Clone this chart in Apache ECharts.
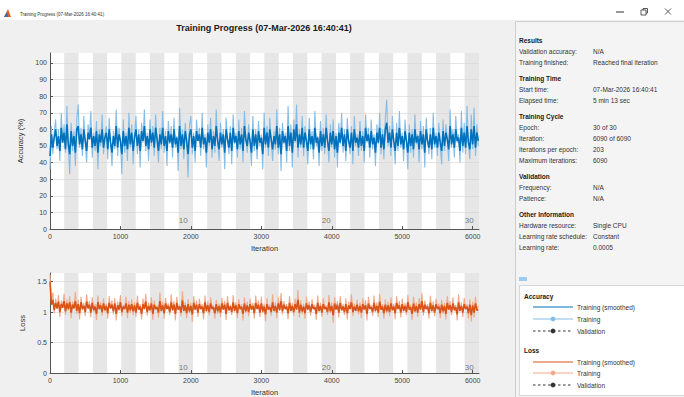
<!DOCTYPE html>
<html>
<head>
<meta charset="utf-8">
<script src="https://cdn.jsdelivr.net/npm/echarts@6/dist/echarts.min.js"></script>
<style>
  html, body { margin: 0; padding: 0; background: #f0f0f0; }
  #chart { width: 684px; height: 397px; }
</style>
</head>
<body>
<div id="chart"></div>
<script>
// readings every 20 iterations
const sampleStep = 20;
const maxIterations = 6090;
const itersPerEpoch = 203;
const epochMarks = [10, 20, 30];
const xTicks = [0, 1000, 2000, 3000, 4000, 5000, 6000];

const accTraining = [
  36, 62, 45, 58, 66, 48, 60, 41, 70, 52, 63, 46, 74, 50, 33, 64, 47, 59, 38, 66,
  75, 49, 61, 44, 68, 52, 40, 63, 55, 71, 43, 58, 47, 65, 36, 60, 50, 69, 45, 57,
  62, 42, 67, 51, 38, 59, 48, 72, 44, 61, 53, 33, 66, 46, 58, 41, 70, 49, 63, 39,
  57, 68, 45, 60, 37, 64, 52, 72, 47, 58, 41, 66, 50, 62, 44, 69, 53, 40, 61, 48,
  71, 46, 59, 38, 65, 51, 62, 43, 67, 49, 56, 35, 73, 48, 60, 42, 64, 52, 31, 62,
  68, 45, 58, 40, 66, 53, 61, 44, 70, 48, 57, 37, 63, 50, 67, 43, 59, 46, 72, 52,
  41, 64, 49, 60, 36, 67, 54, 45, 62, 39, 69, 51, 58, 43, 66, 48, 61, 40, 71, 55,
  46, 63, 52, 38, 68, 47, 60, 42, 65, 50, 57, 36, 70, 49, 62, 44, 67, 53, 41, 59,
  48, 72, 45, 61, 35, 64, 51, 58, 40, 74, 47, 63, 37, 66, 52, 75, 43, 60, 49, 68,
  44, 62, 53, 39, 67, 48, 59, 42, 71, 50, 56, 38, 65, 47, 61, 45, 69, 52, 40, 63,
  49, 66, 43, 58, 37, 64, 51, 70, 46, 60, 41, 67, 53, 45, 62, 39, 68, 50, 57, 44,
  65, 47, 59, 40, 69, 52, 61, 43, 66, 48, 57, 38, 63, 51, 70, 45, 60, 42, 67, 78,
  50, 62, 44, 68, 53, 39, 64, 47, 71, 49, 58, 41, 66, 52, 36, 63, 46, 60, 43, 69,
  51, 57, 40, 65, 48, 62, 37, 67, 53, 45, 61, 42, 70, 49, 58, 44, 64, 50, 39, 66,
  47, 63, 54, 41, 72, 49, 60, 43, 68, 52, 57, 40, 71, 46, 64, 45, 74, 51, 42, 69,
  48, 73, 44, 63, 50
];
const accSmoothed = [
  44, 57, 49, 55, 60, 50, 56, 47, 61, 52, 58, 48, 63, 51, 45, 59, 50, 56, 46, 60,
  62, 51, 57, 48, 60, 53, 47, 58, 54, 61, 49, 56, 50, 59, 46, 57, 52, 60, 49, 55,
  58, 48, 60, 52, 46, 56, 50, 62, 49, 57, 53, 45, 59, 50, 56, 48, 61, 51, 58, 47,
  55, 60, 50, 57, 47, 59, 53, 62, 50, 56, 48, 60, 52, 58, 49, 61, 54, 47, 57, 51,
  61, 50, 56, 47, 59, 52, 57, 49, 60, 51, 55, 46, 62, 50, 57, 48, 59, 53, 45, 57,
  60, 49, 56, 47, 59, 53, 57, 49, 61, 51, 55, 46, 58, 52, 60, 48, 56, 50, 62, 53,
  48, 58, 51, 57, 46, 60, 54, 49, 58, 47, 61, 52, 56, 48, 59, 51, 57, 47, 62, 54,
  50, 58, 53, 46, 60, 50, 57, 48, 59, 52, 55, 45, 61, 51, 58, 49, 60, 54, 48, 56,
  51, 62, 49, 57, 45, 59, 52, 56, 47, 62, 50, 58, 46, 60, 53, 63, 49, 57, 51, 61,
  49, 58, 53, 47, 60, 51, 56, 48, 61, 52, 55, 46, 59, 50, 57, 49, 61, 53, 47, 58,
  51, 59, 48, 56, 46, 58, 52, 61, 50, 57, 47, 60, 53, 49, 58, 47, 60, 52, 55, 49,
  59, 50, 56, 47, 61, 53, 57, 49, 59, 51, 55, 46, 58, 52, 61, 49, 57, 48, 60, 64,
  52, 58, 49, 60, 53, 47, 58, 50, 61, 51, 56, 48, 59, 53, 46, 58, 50, 57, 48, 60,
  52, 56, 48, 59, 51, 57, 46, 60, 53, 49, 57, 48, 61, 51, 56, 49, 58, 52, 47, 59,
  50, 58, 54, 48, 62, 51, 57, 49, 60, 53, 55, 47, 61, 50, 58, 49, 62, 52, 48, 60,
  51, 62, 49, 58, 53
];
const lossTraining = [
  1.62, 1.18, 1.32, 0.98, 1.22, 1.05, 1.28, 0.92, 1.19, 1.08, 1.30, 0.95, 1.21, 1.02, 1.26, 0.90, 1.17, 1.07, 1.33, 0.97,
  1.20, 0.88, 1.25, 1.03, 1.15, 0.93, 1.29, 1.06, 1.18, 0.91, 1.24, 1.00, 1.13, 0.87, 1.27, 1.04, 1.16, 0.94, 1.22, 1.01,
  1.14, 0.89, 1.26, 1.05, 1.19, 0.96, 1.23, 0.86, 1.17, 1.02, 1.28, 0.93, 1.12, 1.06, 1.25, 0.90, 1.18, 0.99, 1.21, 0.95,
  1.16, 0.92, 1.27, 1.03, 1.13, 0.88, 1.22, 1.05, 1.30, 0.94, 1.15, 1.01, 1.24, 0.87, 1.19, 1.04, 1.11, 0.91, 1.32, 1.00,
  1.17, 0.89, 1.23, 1.06, 1.14, 0.95, 1.29, 1.02, 1.18, 0.86, 1.25, 1.04, 1.12, 0.93, 1.34, 1.01, 1.16, 0.90, 1.21, 0.98,
  1.15, 0.84, 1.26, 1.03, 1.19, 0.92, 1.22, 1.05, 1.13, 0.88, 1.27, 1.00, 1.17, 0.94, 1.24, 1.06, 1.11, 0.89, 1.20, 0.97,
  1.14, 0.91, 1.23, 1.04, 1.18, 0.87, 1.26, 1.02, 1.12, 0.95, 1.28, 1.01, 1.16, 0.90, 1.21, 1.05, 1.13, 0.86, 1.24, 0.99,
  1.17, 0.93, 1.22, 1.03, 1.15, 0.89, 1.27, 1.06, 1.19, 0.92, 1.25, 0.98, 1.14, 0.85, 1.23, 1.04, 1.12, 0.94, 1.29, 1.00,
  1.16, 0.90, 1.24, 1.02, 1.31, 0.96, 1.18, 1.05, 1.13, 0.88, 1.26, 1.01, 1.15, 0.93, 1.22, 1.04, 1.36, 0.91, 1.19, 0.97,
  1.14, 0.89, 1.25, 1.03, 1.17, 0.94, 1.21, 1.06, 1.12, 0.87, 1.27, 1.00, 1.15, 0.92, 1.23, 1.05, 1.11, 0.95, 1.28, 0.99,
  1.16, 0.82, 1.24, 1.04, 1.18, 0.91, 1.26, 1.02, 1.13, 0.95, 1.22, 0.88, 1.17, 1.05, 1.29, 0.93, 1.14, 1.01, 1.20, 0.96,
  1.15, 0.90, 1.23, 1.03, 1.19, 0.86, 1.25, 1.06, 1.12, 0.94, 1.27, 1.00, 1.16, 0.92, 1.30, 1.04, 1.13, 0.89, 1.21, 0.98,
  1.17, 0.93, 1.24, 1.02, 1.14, 0.88, 1.26, 1.05, 1.18, 0.91, 1.22, 1.01, 1.15, 0.95, 1.28, 1.03, 1.12, 0.87, 1.25, 0.99,
  1.16, 0.92, 1.23, 1.04, 1.31, 0.94, 1.19, 1.06, 1.13, 0.89, 1.27, 1.00, 1.17, 0.93, 1.22, 1.05, 1.14, 0.90, 1.20, 0.97,
  1.15, 0.88, 1.26, 1.03, 1.18, 0.95, 1.24, 1.02, 1.12, 0.86, 1.29, 1.01, 1.16, 0.92, 1.23, 1.05, 1.13, 0.89, 1.21, 0.84,
  1.17, 0.91, 1.25, 1.02, 1.10
];
const lossSmoothed = [
  1.50, 1.12, 1.20, 1.03, 1.15, 1.06, 1.17, 1.00, 1.13, 1.07, 1.18, 1.01, 1.14, 1.05, 1.16, 0.99, 1.12, 1.06, 1.18, 1.02,
  1.13, 0.98, 1.16, 1.05, 1.10, 1.00, 1.17, 1.06, 1.12, 0.99, 1.15, 1.03, 1.09, 0.97, 1.16, 1.05, 1.11, 1.00, 1.14, 1.03,
  1.10, 0.98, 1.15, 1.06, 1.12, 1.01, 1.14, 0.97, 1.11, 1.04, 1.16, 1.00, 1.09, 1.05, 1.14, 0.99, 1.12, 1.03, 1.13, 1.01,
  1.11, 0.99, 1.15, 1.04, 1.09, 0.97, 1.13, 1.05, 1.17, 1.00, 1.10, 1.03, 1.14, 0.97, 1.12, 1.05, 1.08, 0.99, 1.18, 1.02,
  1.11, 0.98, 1.14, 1.05, 1.10, 1.00, 1.16, 1.03, 1.12, 0.97, 1.15, 1.04, 1.09, 0.99, 1.19, 1.02, 1.11, 0.98, 1.13, 1.01,
  1.10, 0.96, 1.15, 1.04, 1.12, 0.99, 1.13, 1.05, 1.09, 0.98, 1.16, 1.02, 1.11, 1.00, 1.14, 1.05, 1.08, 0.98, 1.13, 1.01,
  1.10, 0.99, 1.14, 1.04, 1.12, 0.97, 1.15, 1.03, 1.09, 1.00, 1.16, 1.02, 1.11, 0.98, 1.13, 1.05, 1.09, 0.97, 1.14, 1.01,
  1.11, 1.00, 1.13, 1.04, 1.10, 0.98, 1.15, 1.05, 1.12, 0.99, 1.14, 1.01, 1.09, 0.96, 1.13, 1.04, 1.08, 1.00, 1.16, 1.02,
  1.10, 0.99, 1.14, 1.03, 1.18, 1.01, 1.12, 1.05, 1.09, 0.98, 1.15, 1.02, 1.10, 1.00, 1.13, 1.04, 1.20, 0.99, 1.12, 1.01,
  1.09, 0.98, 1.14, 1.04, 1.11, 1.00, 1.13, 1.05, 1.08, 0.97, 1.15, 1.02, 1.10, 0.99, 1.13, 1.05, 1.08, 1.00, 1.16, 1.01,
  1.10, 0.95, 1.14, 1.04, 1.12, 0.99, 1.15, 1.03, 1.09, 1.00, 1.13, 0.98, 1.11, 1.05, 1.16, 1.00, 1.09, 1.02, 1.12, 1.01,
  1.10, 0.99, 1.13, 1.04, 1.11, 0.97, 1.14, 1.05, 1.08, 1.00, 1.15, 1.02, 1.10, 0.99, 1.17, 1.04, 1.09, 0.98, 1.12, 1.01,
  1.11, 1.00, 1.14, 1.03, 1.09, 0.98, 1.15, 1.05, 1.11, 0.99, 1.13, 1.02, 1.10, 1.00, 1.16, 1.04, 1.08, 0.97, 1.14, 1.01,
  1.10, 0.99, 1.13, 1.04, 1.18, 1.00, 1.12, 1.05, 1.09, 0.98, 1.15, 1.02, 1.11, 0.99, 1.13, 1.05, 1.09, 0.98, 1.12, 1.01,
  1.10, 0.97, 1.15, 1.04, 1.11, 1.00, 1.14, 1.03, 1.08, 0.96, 1.16, 1.02, 1.10, 0.99, 1.13, 1.05, 1.09, 0.98, 1.12, 0.95,
  1.11, 0.99, 1.14, 1.03, 1.04
];

const panelRows = [
  ['Results', null],
  ['Validation accuracy:', 'N/A'],
  ['Training finished:', 'Reached final iteration'],
  ['Training Time', null],
  ['Start time:', '07-Mar-2026 16:40:41'],
  ['Elapsed time:', '5 min 13 sec'],
  ['Training Cycle', null],
  ['Epoch:', '30 of 30'],
  ['Iteration:', '6090 of 6090'],
  ['Iterations per epoch:', '203'],
  ['Maximum iterations:', '6090'],
  ['Validation', null],
  ['Frequency:', 'N/A'],
  ['Patience:', 'N/A'],
  ['Other Information', null],
  ['Hardware resource:', 'Single CPU'],
  ['Learning rate schedule:', 'Constant'],
  ['Learning rate:', '0.0005']
];

const FONT = '"Liberation Sans", Arial, sans-serif';
const BLUE = '#0072bd', BLUE_L = '#86bde6';
const ORANGE = '#d95319', ORANGE_L = '#f0aa8a';
const AXIS = '#555555';

const toPairs = arr => arr.map((v, i) => [i * sampleStep, v]);

function txt(text, x, y, size, opts) {
  opts = opts || {};
  return {
    type: 'text', silent: true, z: 10,
    style: {
      text: text, x: x, y: y,
      font: (opts.bold ? 'bold ' : '') + size + 'px ' + FONT,
      fill: opts.color || '#262626',
      align: opts.align || 'left', verticalAlign: 'middle'
    }
  };
}

const graphics = [];
// window chrome
graphics.push({ type: 'rect', silent: true, shape: { x: 0, y: 0, width: 684, height: 20 }, style: { fill: '#ffffff' } });
graphics.push({ type: 'polygon', silent: true, shape: { points: [[4, 17], [8, 9], [11, 17]] }, style: { fill: '#e0601f' } });
graphics.push({ type: 'polygon', silent: true, shape: { points: [[4, 17], [7, 12], [8, 17]] }, style: { fill: '#2f6fb5' } });
graphics.push(txt('Training Progress (07-Mar-2026 16:40:41)', 20, 14, 4.5, { color: '#333' }));
graphics.push({ type: 'line', silent: true, shape: { x1: 616, y1: 12, x2: 624, y2: 12 }, style: { stroke: '#333', lineWidth: 1 } });
graphics.push({ type: 'rect', silent: true, shape: { x: 641, y: 10, width: 5, height: 5 }, style: { fill: 'none', stroke: '#333', lineWidth: 0.8 } });
graphics.push({ type: 'polyline', silent: true, shape: { points: [[643, 10], [643, 8.5], [647.5, 8.5], [647.5, 13], [646, 13]] }, style: { fill: 'none', stroke: '#333', lineWidth: 0.8 } });
graphics.push({ type: 'line', silent: true, shape: { x1: 665, y1: 8.5, x2: 671, y2: 14.5 }, style: { stroke: '#333', lineWidth: 0.8 } });
graphics.push({ type: 'line', silent: true, shape: { x1: 671, y1: 8.5, x2: 665, y2: 14.5 }, style: { stroke: '#333', lineWidth: 0.8 } });
// main title
graphics.push(txt('Training Progress (07-Mar-2026 16:40:41)', 264, 28, 9, { bold: true, align: 'center', color: '#1a1a1a' }));

// right info panel
graphics.push({ type: 'rect', silent: true, shape: { x: 515.5, y: 21.5, width: 170, height: 380 }, style: { fill: '#f4f4f4', stroke: '#cdcdcd', lineWidth: 1 } });
let py = 40;
panelRows.forEach((r, i) => {
  if (r[1] === null) {
    if (i > 0) py += 16;
    graphics.push(txt(r[0], 519, py, 6.5, { bold: true, color: '#1a1a1a' }));
  } else {
    py += 11;
    graphics.push(txt(r[0], 519, py, 6.5, { color: '#333' }));
    graphics.push(txt(r[1], 593, py, 6.5, { color: '#333' }));
  }
});
graphics.push({ type: 'rect', silent: true, shape: { x: 519, y: 277, width: 8, height: 4 }, style: { fill: '#9fcbee' } });

// legend box
graphics.push({ type: 'rect', silent: true, shape: { x: 519.5, y: 285.5, width: 166, height: 110 }, style: { fill: '#ffffff', stroke: '#d6d6d6', lineWidth: 1 } });
function legendEntry(y, color, kind, label) {
  const line = { type: 'line', silent: true, z: 10, shape: { x1: 533, y1: y, x2: 573, y2: y }, style: { stroke: color, lineWidth: 1.2 } };
  if (kind === 'dash') line.style.lineDash = [2.5, 2.5];
  graphics.push(line);
  if (kind !== 'solid') {
    graphics.push({ type: 'circle', silent: true, z: 11, shape: { cx: 553, cy: y, r: 2.4 }, style: { fill: color } });
  }
  graphics.push(txt(label, 577, y, 6.5, { color: '#333' }));
}
graphics.push(txt('Accuracy', 524, 296, 6.5, { bold: true, color: '#1a1a1a' }));
legendEntry(307, BLUE, 'solid', 'Training (smoothed)');
legendEntry(319, BLUE_L, 'marker', 'Training');
legendEntry(331, '#333333', 'dash', 'Validation');
graphics.push(txt('Loss', 524, 350, 6.5, { bold: true, color: '#1a1a1a' }));
legendEntry(362, ORANGE, 'solid', 'Training (smoothed)');
legendEntry(373, ORANGE_L, 'marker', 'Training');
legendEntry(385, '#333333', 'dash', 'Validation');

function mainX(gridIndex) {
  return {
    type: 'value', gridIndex: gridIndex, min: 0, max: maxIterations, interval: xTicks[1] - xTicks[0], z: 1,
    name: 'Iteration', nameLocation: 'middle', nameGap: 15,
    nameTextStyle: { fontSize: 7.5, color: '#333', fontFamily: FONT },
    axisLine: { lineStyle: { color: AXIS, width: 1 } },
    axisTick: { inside: true, length: 3, lineStyle: { color: AXIS } },
    axisLabel: { fontSize: 7, color: '#444', margin: 4, fontFamily: FONT, showMaxLabel: false, formatter: v => String(v) },
    splitLine: { show: false }
  };
}
function bandX(gridIndex) {
  return {
    type: 'value', gridIndex: gridIndex, min: 0, max: maxIterations, interval: itersPerEpoch, z: 0,
    position: 'bottom',
    axisLine: { show: false }, axisTick: { show: false }, axisLabel: { show: false },
    splitLine: { show: false },
    splitArea: { show: true, areaStyle: { color: ['#ffffff', '#e6e6e6'] } }
  };
}
function yAx(gridIndex, max, interval, name, gap) {
  return {
    type: 'value', gridIndex: gridIndex, min: 0, max: max, interval: interval, z: 1,
    name: name, nameLocation: 'middle', nameRotate: 90, nameGap: gap,
    nameTextStyle: { fontSize: 7.5, color: '#333', fontFamily: FONT },
    axisLine: { show: true, lineStyle: { color: AXIS, width: 1 } },
    axisTick: { show: true, inside: true, length: 3, lineStyle: { color: AXIS } },
    axisLabel: { fontSize: 7, color: '#444', margin: 3, fontFamily: FONT, showMaxLabel: false },
    splitLine: { show: true, showMinLine: false, showMaxLine: false, lineStyle: { color: '#d4d4d4', width: 0.6 } }
  };
}
function epochSeries(xi, yi, yPos) {
  return {
    type: 'scatter', xAxisIndex: xi, yAxisIndex: yi, symbolSize: 0, silent: true, z: 5,
    data: epochMarks.map(e => [(e - 1) * itersPerEpoch, yPos, e]),
    label: { show: true, position: 'right', distance: 0, formatter: p => String(p.value[2]), fontSize: 8, color: '#555', fontFamily: FONT }
  };
}
function lineSeries(xi, yi, arr, color, width, z) {
  return {
    type: 'line', xAxisIndex: xi, yAxisIndex: yi, data: toPairs(arr), showSymbol: false, silent: true, z: z,
    lineStyle: { color: color, width: width }, itemStyle: { color: color }
  };
}

const chart = echarts.init(document.getElementById('chart'), null, { renderer: 'svg' });
chart.setOption({
  animation: false,
  backgroundColor: '#f0f0f0',
  textStyle: { fontFamily: FONT },
  grid: [
    { left: 50, top: 53, width: 429, height: 176 },
    { left: 50, top: 273, width: 429, height: 105 }
  ],
  xAxis: [mainX(0), bandX(0), mainX(1), bandX(1)],
  yAxis: [yAx(0, 106, 10, 'Accuracy (%)', 20), yAx(1, 1.64, 0.5, 'Loss', 18)],
  series: [
    lineSeries(0, 0, accTraining, BLUE_L, 1.1, 2),
    lineSeries(0, 0, accSmoothed, BLUE, 1.6, 3),
    epochSeries(0, 0, 5),
    lineSeries(2, 1, lossTraining, ORANGE_L, 1.1, 2),
    lineSeries(2, 1, lossSmoothed, ORANGE, 1.6, 3),
    epochSeries(2, 1, 0.09)
  ],
  graphic: graphics
});
</script>
</body>
</html>
